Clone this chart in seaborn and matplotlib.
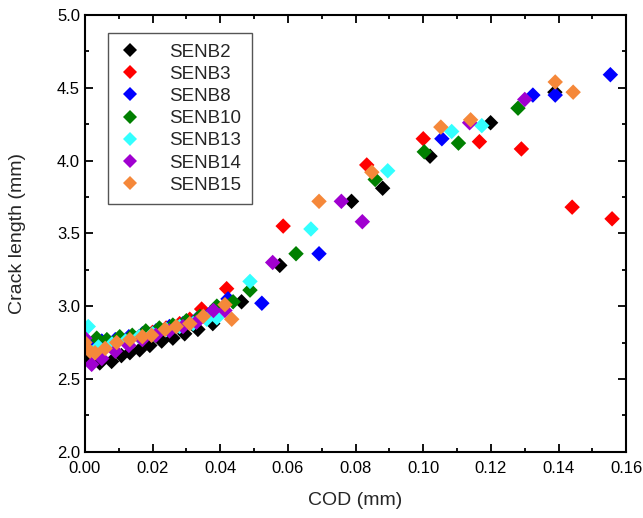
import numpy as np
import pandas as pd
import seaborn as sns
import matplotlib
matplotlib.use("Agg")
import matplotlib.pyplot as plt
from matplotlib.ticker import MultipleLocator

# crack length vs COD
senb2_cod = [0.000, 0.0044, 0.0079, 0.0108, 0.0133, 0.0162, 0.0192, 0.0227, 0.026, 0.0295,
             0.0334, 0.0378, 0.0463, 0.0576, 0.0788, 0.088, 0.102, 0.1199, 0.1389]
senb2_len = [2.64, 2.61, 2.62, 2.66, 2.68, 2.70, 2.73, 2.76, 2.78, 2.81,
             2.84, 2.88, 3.03, 3.28, 3.72, 3.81, 4.03, 4.26, 4.47]

senb3_cod = [0.001, 0.004, 0.008, 0.012, 0.016, 0.020, 0.024, 0.028, 0.031, 0.0345,
             0.0419, 0.0586, 0.0833, 0.100, 0.1166, 0.129, 0.144, 0.1558]
senb3_len = [2.72, 2.70, 2.74, 2.76, 2.79, 2.82, 2.85, 2.88, 2.91, 2.98,
             3.12, 3.55, 3.97, 4.15, 4.13, 4.08, 3.68, 3.60]

senb8_cod = [0.002, 0.005, 0.009, 0.013, 0.017, 0.021, 0.025, 0.029, 0.033, 0.037,
             0.0423, 0.0523, 0.0692, 0.1055, 0.1324, 0.139, 0.1553]
senb8_len = [2.74, 2.76, 2.77, 2.79, 2.81, 2.83, 2.86, 2.88, 2.91, 2.95,
             3.05, 3.02, 3.36, 4.15, 4.45, 4.45, 4.59]

senb10_cod = [0.000, 0.0035, 0.0065, 0.0103, 0.014, 0.018, 0.022, 0.026, 0.030, 0.034,
              0.039, 0.0438, 0.0488, 0.0624, 0.0858, 0.1003, 0.1104, 0.128]
senb10_len = [2.72, 2.78, 2.77, 2.79, 2.80, 2.83, 2.85, 2.87, 2.90, 2.93,
              3.00, 3.03, 3.11, 3.36, 3.87, 4.06, 4.12, 4.36]

senb13_cod = [0.001, 0.004, 0.008, 0.012, 0.016, 0.020, 0.024, 0.028, 0.032, 0.036,
              0.039, 0.0488, 0.0668, 0.0895, 0.1084, 0.1173]
senb13_len = [2.86, 2.72, 2.74, 2.76, 2.79, 2.81, 2.84, 2.86, 2.88, 2.91,
              2.92, 3.17, 3.53, 3.93, 4.20, 4.24]

senb14_cod = [0.000, 0.002, 0.005, 0.009, 0.013, 0.017, 0.021, 0.025, 0.029, 0.033,
              0.038, 0.0414, 0.0555, 0.0758, 0.082, 0.1137, 0.130]
senb14_len = [2.78, 2.60, 2.64, 2.69, 2.73, 2.77, 2.80, 2.83, 2.86, 2.89,
              2.97, 2.97, 3.30, 3.72, 3.58, 4.26, 4.42]

senb15_cod = [0.000, 0.0015, 0.003, 0.006, 0.0094, 0.0133, 0.017, 0.0197, 0.0237, 0.027,
              0.031, 0.035, 0.0414, 0.0434, 0.0692, 0.0848, 0.1052, 0.114, 0.139, 0.1443]
senb15_len = [2.75, 2.69, 2.68, 2.71, 2.75, 2.77, 2.79, 2.80, 2.84, 2.86,
              2.88, 2.93, 3.01, 2.91, 3.72, 3.92, 4.23, 4.28, 4.54, 4.47]

series_names = ["SENB2", "SENB3", "SENB8", "SENB10", "SENB13", "SENB14", "SENB15"]
series_cod = [senb2_cod, senb3_cod, senb8_cod, senb10_cod, senb13_cod, senb14_cod, senb15_cod]
series_len = [senb2_len, senb3_len, senb8_len, senb10_len, senb13_len, senb14_len, senb15_len]
series_colors = ["#000000", "#FF0000", "#0000FF", "#008000", "#33FFFF", "#A000D0", "#F5883A"]

frames = []
for name, cod, length in zip(series_names, series_cod, series_len):
    frames.append(pd.DataFrame({"COD": cod, "crack": length, "specimen": name}))
dataFrame = pd.concat(frames, ignore_index=True)

sns.set_style("ticks")
plt.rcParams["font.family"] = ["Liberation Sans", "DejaVu Sans"]

fig = plt.figure(figsize=(6.43, 5.18), dpi=100)
ax = fig.add_axes([0.132, 0.128, 0.842, 0.843])

sns.scatterplot(
    data=dataFrame, x="COD", y="crack", hue="specimen",
    hue_order=series_names, palette=dict(zip(series_names, series_colors)),
    marker="D", s=62, linewidth=0, ax=ax
)

ax.set_xlim(0, 0.16)
ax.set_ylim(2.0, 5.0)
ax.xaxis.set_major_locator(MultipleLocator(0.02))
ax.xaxis.set_minor_locator(MultipleLocator(0.01))
ax.yaxis.set_major_locator(MultipleLocator(0.5))
ax.yaxis.set_minor_locator(MultipleLocator(0.25))
ax.xaxis.set_major_formatter(matplotlib.ticker.FormatStrFormatter("%.2f"))
ax.yaxis.set_major_formatter(matplotlib.ticker.FormatStrFormatter("%.1f"))
ax.tick_params(which="both", direction="in", top=True, right=True, width=1.3, colors="black")
ax.tick_params(which="major", length=6, labelsize=12)
ax.tick_params(axis="x", which="major", pad=7)
ax.tick_params(which="minor", length=3)
for spine in ax.spines.values():
    spine.set_linewidth(1.5)
    spine.set_color("black")

ax.set_xlabel("COD (mm)", fontsize=14, labelpad=11)
ax.set_ylabel("Crack length (mm)", fontsize=14, labelpad=22)

handles, labels = ax.get_legend_handles_labels()
for h in handles:
    h.set_markersize(7)
ax.legend(handles, labels, loc="upper left", bbox_to_anchor=(0.035, 0.967),
          fontsize=13.5, frameon=True, fancybox=False, edgecolor="#555555",
          framealpha=1, handlelength=1.3, handletextpad=1.45, labelspacing=0.27,
          borderpad=0.55, borderaxespad=0.2)
ax.get_legend().get_frame().set_linewidth(1.0)

fig.savefig("out.png", dpi=100)
